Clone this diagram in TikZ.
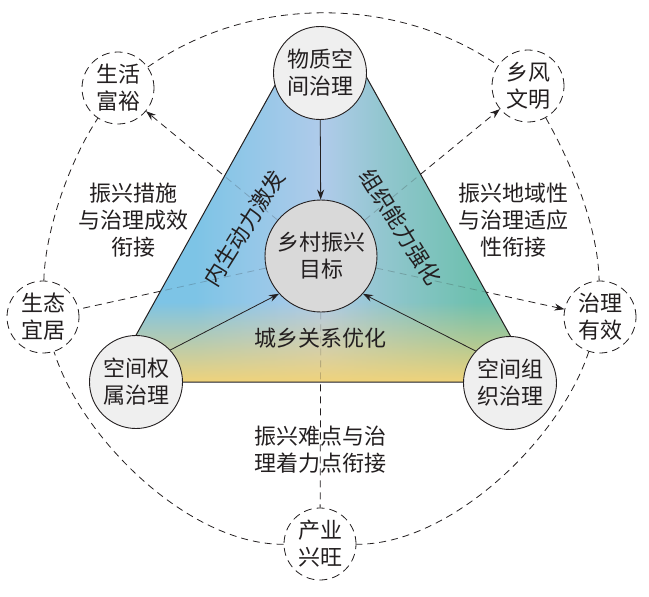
\documentclass[tikz,border=0pt]{standalone}
\usepackage{fontspec}
\newfontfamily\cjk{Noto Sans CJK SC}
\usepackage{tikz}
\usetikzlibrary{arrows.meta}
\usetikzlibrary{fadings}
\definecolor{ink}{RGB}{35,31,32}
\definecolor{blueL}{RGB}{125,196,230}
\definecolor{blueM}{RGB}{176,203,234}
\definecolor{tealR}{RGB}{109,192,174}
\definecolor{yellowB}{RGB}{240,211,123}
\definecolor{nodegray}{RGB}{239,239,239}
\definecolor{goalgray}{RGB}{217,217,217}
\newcommand\txtfont{\cjk\fontsize{22}{27}\selectfont}
\pgfdeclarehorizontalshading{trishade}{100bp}{color(0bp)=(blueL); color(35bp)=(blueL); color(50bp)=(blueM); color(57bp)=(blueM!55!tealR); color(68bp)=(tealR); color(100bp)=(tealR)}
\tikzfading[name=fade yellow, top color=transparent!100, middle color=transparent!0, bottom color=transparent!0]

\begin{document}
\begin{tikzpicture}[x=1pt,y=1pt,yscale=-1,xscale=1,
  txt/.style={font=\txtfont,text=ink,align=center,inner sep=0pt},
  solidnode/.style={txt,circle,draw=ink,line width=0.9pt,fill=nodegray,minimum size=93pt},
  goalnode/.style={solidnode,fill=goalgray,minimum size=112pt},
  aimnode/.style={txt,circle,draw=ink,line width=0.8pt,fill=white,dash pattern=on 8pt off 5pt,minimum size=72pt},
  link/.style={draw=ink,line width=0.8pt,dash pattern=on 7pt off 5pt},
  tip/.style={-{Stealth[length=10pt,width=7pt]}},
  push/.style={draw=ink,line width=0.8pt,tip}]
\useasboundingbox (0,0) rectangle (649,597);

%Triangle
\coordinate (tl) at (289,60);
\coordinate (tr) at (357,60);
\coordinate (br) at (536,382);
\coordinate (bl) at (110,382);
\shade[shading=trishade] (tl) -- (tr) -- (br) -- (bl) -- cycle;
\begin{scope}
\clip (tl) -- (tr) -- (br) -- (bl) -- cycle;
\fill[yellowB,path fading=fade yellow] (100,302) rectangle (550,382);
\end{scope}
\draw[ink,line width=1pt] (tl) -- (bl) -- (br) -- (tr);

% Text Node
\node[solidnode] (wzkj) at (320,73) {物质空\\间治理};
% Text Node
\node[goalnode] (goal) at (321,256) {乡村振兴\\目标};
% Text Node
\node[solidnode] (kjqs) at (136,382) {空间权\\属治理};
% Text Node
\node[solidnode] (kjzz) at (510,383) {空间组\\织治理};
% Text Node
\node[aimnode] (shfy) at (118,88) {生活\\富裕};
% Text Node
\node[aimnode] (xfwm) at (528,86) {乡风\\文明};
% Text Node
\node[aimnode] (stjy) at (43,317) {生态\\宜居};
% Text Node
\node[aimnode] (zlyx) at (600,317) {治理\\有效};
% Text Node
\node[aimnode] (cyxw) at (320,544) {产业\\兴旺};

%Straight Lines (faint inside the triangle)
\begin{scope}
\clip (tl) -- (tr) -- (br) -- (bl) -- cycle;
\foreach \aim in {shfy,xfwm,stjy,zlyx,cyxw}
  \draw[link,draw opacity=0.22] (goal) -- (\aim);
\end{scope}
\begin{scope}[even odd rule]
\clip (0,0) rectangle (649,597) (tl) -- (tr) -- (br) -- (bl) -- cycle;
\draw[link,tip] (goal) -- (shfy);
\draw[link,tip] (goal) -- (xfwm);
\draw[link] (goal) -- (stjy);
\draw[link,tip] (goal) -- (zlyx);
\draw[link] (goal) -- (cyxw);
\end{scope}
\draw[push] (wzkj) -- (goal);
\draw[push] (kjqs.43) -- (goal.222);
\draw[push] (kjzz.137) -- (goal.318);

%Curve Lines
\draw[link] (shfy) .. controls (250,-5) and (396,-5) .. (xfwm);
\draw[link] (xfwm) .. controls (575,170) and (598,230) .. (zlyx);
\draw[link] (zlyx) .. controls (560,440) and (450,545) .. (cyxw);
\draw[link] (cyxw) .. controls (190,545) and (82,440) .. (stjy);
\draw[link] (stjy) .. controls (45,230) and (70,160) .. (shfy);

% Text Node
\node[txt,rotate=58] (ndl) at (244,228) {内生动力激发};
% Text Node
\node[txt,rotate=-58] (zzl) at (401,227) {组织能力强化};
% Text Node
\node[txt] (cxgx) at (320,338) {城乡关系优化};
% Text Node
\node[txt] (lbl1) at (133,220) {振兴措施\\与治理成效\\衔接};
% Text Node
\node[txt] (lbl2) at (513,220) {振兴地域性\\与治理适应\\性衔接};
% Text Node
\node[txt] (lbl3) at (320,450) {振兴难点与治\\理着力点衔接};

\end{tikzpicture}
\end{document}
